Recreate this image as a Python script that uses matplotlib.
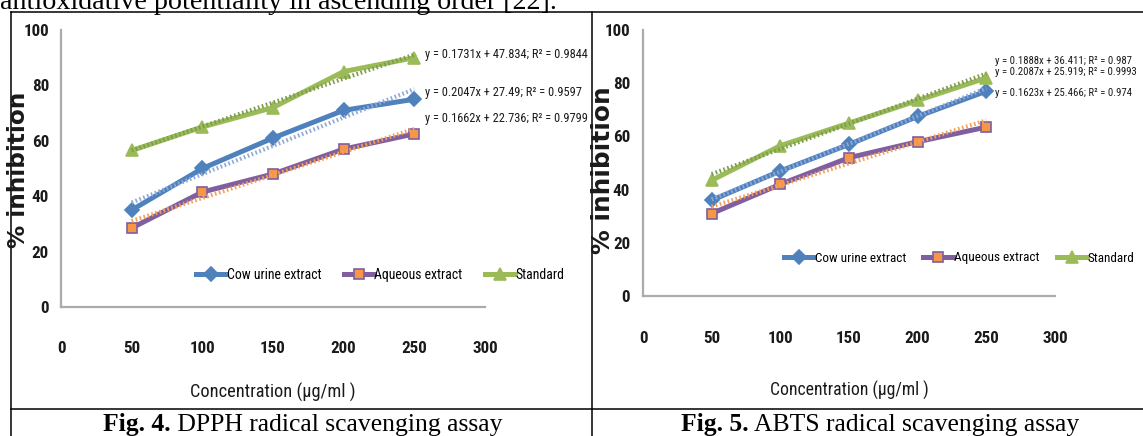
import matplotlib
matplotlib.use("Agg")
import matplotlib.pyplot as plt
from matplotlib import font_manager as fm
from matplotlib.lines import Line2D
import numpy as np

# %% Data
conc = [50, 100, 150, 200, 250]
series_names = ["Cow urine extract", "Aqueous extract", "Standard"]

# Fig. 4 - DPPH
dpph_cow = [35, 50, 61, 71, 75]
dpph_aqueous = [28.5, 41.5, 48, 57, 62.5]
dpph_standard = [56.5, 65, 72, 85, 90]
dpph_slope = [0.2047, 0.1662, 0.1731]
dpph_intercept = [27.49, 22.736, 47.834]
dpph_r2 = [0.9597, 0.9799, 0.9844]

# Fig. 5 - ABTS
abts_cow = [36, 47, 57, 67.5, 77]
abts_aqueous = [31, 42, 52, 58, 63.5]
abts_standard = [43.5, 56.5, 65, 73.5, 82]
abts_slope = [0.2087, 0.1623, 0.1888]
abts_intercept = [25.919, 25.466, 36.411]
abts_r2 = [0.9993, 0.974, 0.987]

x_ticks = [0, 50, 100, 150, 200, 250, 300]
y_ticks = [0, 20, 40, 60, 80, 100]

# %% Styles
W, H = 1143, 436
line_cols = ["#4F81BD", "#7F5F9F", "#9BBB59"]
marker_face = ["#4F81BD", "#F79646", "#9BBB59"]
markers = ["D", "s", "^"]
msizes = [7, 6.5, 8]
trend_cols = ["#8EA9D8", "#F5A05A", "#7E9C4E"]
ink = "#1a1a1a"


def pick_narrow():
    # the chart text in the reference is a narrow Calibri-like face
    for fam, stretch in [("Liberation Sans Narrow", "normal"),
                         ("Roboto Condensed", "normal"),
                         ("DejaVu Sans", "condensed")]:
        try:
            path = fm.findfont(fm.FontProperties(family=fam, stretch=stretch),
                               fallback_to_default=False)
        except ValueError:
            continue
        if fam == "DejaVu Sans" and "Condensed" not in path:
            continue
        return fam, stretch
    return "Roboto", "normal"


NARROW, STRETCH = pick_narrow()
nprops = {"family": NARROW, "fontstretch": STRETCH}


def fx(x):
    return x / W


def fy(y):
    return 1 - y / H


fig = plt.figure(figsize=(W / 100, H / 100), dpi=100)
renderer = fig.canvas.get_renderer()


def text_px(s, size, **props):
    t = fig.text(0, 0, s, fontsize=size, **props)
    bb = t.get_window_extent(renderer)
    t.remove()
    return bb.width, bb.height


def fit_size(s, target, **props):
    w, _ = text_px(s, 10, **props)
    return 10 * target / w


def eq_text(i, slopes, intercepts, r2s):
    return f"y = {slopes[i]:g}x + {intercepts[i]:g}; R\u00b2 = {r2s[i]:g}"


# the reference text is stretched tall; the tick numbers get a bit more width
tick_size = fit_size("300", 26, fontweight="bold", **nprops)
_, tick_h = text_px("300", tick_size, fontweight="bold", **nprops)


def draw_panel(ax, ys, slopes, intercepts, r2s, label_pos, eq_width,
               axis_y, xlab_y, ylab_gap):
    eq_size = fit_size(eq_text(0, slopes, intercepts, r2s) + "4", eq_width, **nprops)
    for i in range(3):
        ax.plot(conc, ys[i], color=line_cols[i], lw=3.6, marker=markers[i],
                ms=msizes[i], mfc=marker_face[i], mec=line_cols[i], mew=1.2,
                label=series_names[i], zorder=3, clip_on=False)
        tx = np.array([conc[0], conc[-1]])
        ax.plot(tx, slopes[i] * tx + intercepts[i], color=trend_cols[i],
                lw=3, ls=(0, (0.4, 0.6)), zorder=4, clip_on=False)
        ax.text(label_pos[i][0], label_pos[i][1],
                eq_text(i, slopes, intercepts, r2s),
                fontsize=eq_size, ha="left", va="center", color=ink,
                clip_on=False, **nprops)
    ax.set_xlim(0, 300)
    ax.set_ylim(0, 100)
    ax.set_xticks(x_ticks)
    ax.set_yticks(y_ticks)
    for s in ["top", "right"]:
        ax.spines[s].set_visible(False)
    for s in ["left", "bottom"]:
        ax.spines[s].set_color("#ABABAB")
        ax.spines[s].set_linewidth(1.6)
    xpad = (xlab_y - axis_y - tick_h / 2) * 0.72
    ax.tick_params(axis="x", length=0, pad=xpad)
    ax.tick_params(axis="y", length=0, pad=ylab_gap * 0.72)
    for lab in ax.get_xticklabels() + ax.get_yticklabels():
        lab.set_family(NARROW)
        lab.set_fontstretch(STRETCH)
        lab.set_fontsize(tick_size)
        lab.set_fontweight("bold")
        lab.set_color(ink)
    ax.patch.set_alpha(0)


def add_legend(ax, x_left, y_mid, name_width, gap):
    size = fit_size(series_names[0], name_width, **nprops)
    em = size * 100 / 72
    ax.legend(ncol=3, loc="center left", bbox_to_anchor=(fx(x_left), fy(y_mid)),
              bbox_transform=fig.transFigure, frameon=False, numpoints=1,
              borderpad=0, borderaxespad=0, handlelength=30 / em,
              handletextpad=1 / em, columnspacing=gap / em,
              prop={"family": NARROW, "stretch": STRETCH, "size": size})


# %% Left panel (DPPH)
ax1 = fig.add_axes([fx(61), fy(307), fx(485 - 61), (307 - 30) / H])
draw_panel(ax1, [dpph_cow, dpph_aqueous, dpph_standard],
           dpph_slope, dpph_intercept, dpph_r2,
           [(257.5, 77.5), (257.5, 68), (257.5, 91.3)], 162, 307, 348, 12)
add_legend(ax1, 196, 275, 94, 22)

# %% Right panel (ABTS)
ax2 = fig.add_axes([fx(643), fy(296), fx(1055 - 643), (296 - 30) / H])
draw_panel(ax2, [abts_cow, abts_aqueous, abts_standard],
           abts_slope, abts_intercept, abts_r2,
           [(256, 84.2), (256, 76.3), (256, 88.2)], 147, 296, 338, 13)
add_legend(ax2, 784, 258, 91, 17)

# %% Axis titles
for x, length in [(19, 155), (603, 166)]:
    size = fit_size("% inhibition", length, family="DejaVu Sans", fontweight="bold")
    fig.text(fx(x), fy(170), "% inhibition", rotation=90, ha="center",
             va="center", family="DejaVu Sans", fontweight="bold",
             fontsize=size, color=ink)
for x, y, length in [(273, 392, 165), (849, 390, 158)]:
    label = "Concentration (\u00b5g/ml )"
    fig.text(fx(x), fy(y), label, ha="center", va="center",
             fontsize=fit_size(label, length, **nprops), color=ink, **nprops)

# %% Page text, table borders and captions
top_line = "antioxidative potentiality in ascending order [22]."
fig.text(0, fy(9), top_line, ha="left", va="baseline", family="Liberation Serif",
         fontsize=fit_size(top_line, 557, family="Liberation Serif"))

border = dict(color="black", lw=1.1, transform=fig.transFigure)
fig.add_artist(Line2D([fx(11), 1], [fy(12), fy(12)], **border))
fig.add_artist(Line2D([fx(11), 1], [fy(409), fy(409)], **border))
fig.add_artist(Line2D([fx(11), fx(11)], [fy(12), 0], **border))
fig.add_artist(Line2D([fx(592), fx(592)], [fy(12), 0], **border))

cap_num = ["Fig. 4.", "Fig. 5."]
cap_rest = [" DPPH radical scavenging assay", " ABTS radical scavenging assay"]
wb10, _ = text_px(cap_num[0], 10, family="Liberation Serif", fontweight="bold")
wr10, _ = text_px(cap_rest[0], 10, family="Liberation Serif")
cap_size = 10 * 400 / (wb10 + wr10)
for cx, num, rest in zip([303, 880], cap_num, cap_rest):
    wb, _ = text_px(num, cap_size, family="Liberation Serif", fontweight="bold")
    wr, _ = text_px(rest, cap_size, family="Liberation Serif")
    x0 = cx - (wb + wr) / 2
    fig.text(fx(x0), fy(431), num, ha="left", va="baseline",
             family="Liberation Serif", fontweight="bold", fontsize=cap_size)
    fig.text(fx(x0 + wb), fy(431), rest, ha="left", va="baseline",
             family="Liberation Serif", fontsize=cap_size)

fig.savefig("out.png", dpi=100)
